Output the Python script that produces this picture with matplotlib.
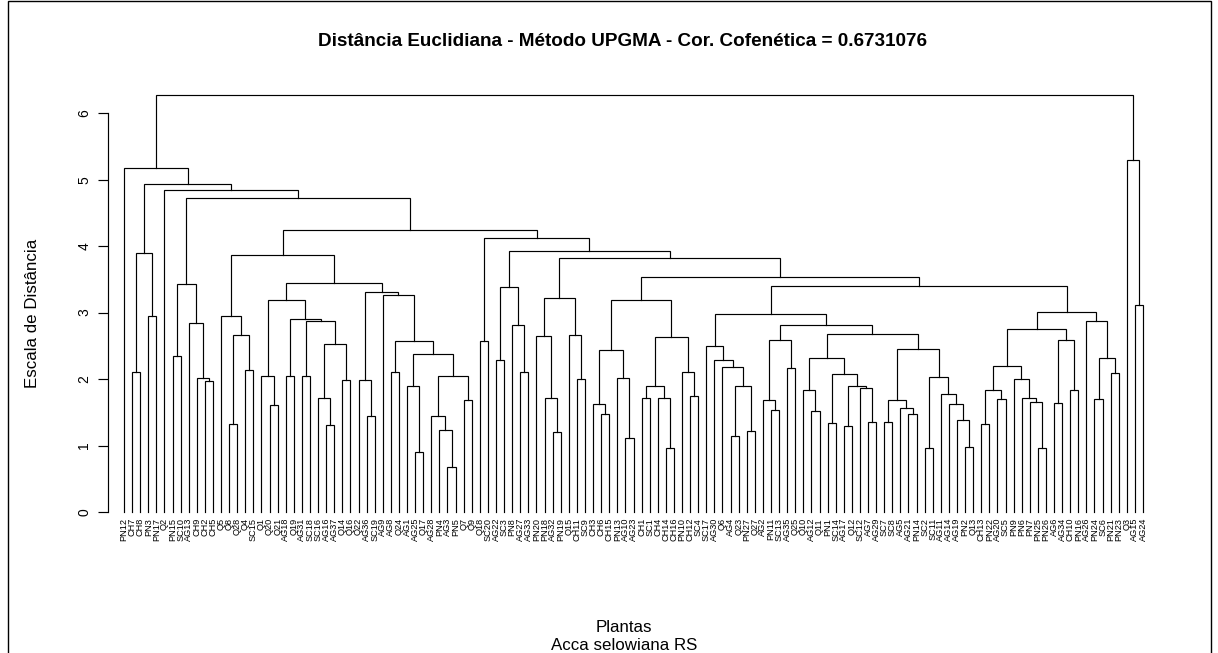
import matplotlib
matplotlib.use("Agg")
import matplotlib.pyplot as plt
from matplotlib.patches import Rectangle

plt.rcParams["font.family"] = ["Liberation Sans", "DejaVu Sans"]

# UPGMA tree: internal nodes are (height, left, right), leaves are plant codes
arvore = (6.27,
    (5.18, "PN12",
        (4.94,
            (3.90, (2.11, "CH7", "CH8"), (2.95, "PN3", "PN17")),
            (4.84, "Q2",
                (4.73,
                    (3.43, (2.35, "PN15", "SC10"),
                           (2.85, "AG13", (2.01, "CH9", (1.97, "CH2", "CH5")))),
                    (4.24,
                        (3.87,
                            (2.95, "Q5", (2.67, (1.32, "Q8", "Q28"), (2.13, "Q4", "SC15"))),
                            (3.44,
                                (3.19, (2.04, "Q1", (1.61, "Q20", "Q21")),
                                       (2.91, (2.04, "AG18", "Q19"),
                                              (2.87, (2.05, "AG31", "SC18"),
                                                     (2.53, (1.71, "SC16", (1.31, "AG16", "AG37")),
                                                            (1.98, "Q14", "Q16"))))),
                                (3.31, (1.98, "Q22", (1.45, "AG36", "SC19")),
                                       (3.27, "AG9",
                                              (2.58, (2.11, "AG8", "Q24"),
                                                     (2.37, (1.90, "AG1", (0.91, "AG25", "Q17")),
                                                            (2.04, (1.45, "AG28", (1.24, "PN4", (0.67, "AG3", "PN5"))),
                                                                   (1.68, "Q7", "Q9")))))))),
                        (4.12, (2.58, "Q18", "SC20"),
                            (3.92,
                                (3.38, (2.28, "AG22", "SC3"), (2.81, "PN8", (2.11, "AG27", "AG33"))),
                                (3.82,
                                    (3.22, (2.65, "PN20", (1.71, "PN18", (1.21, "AG32", "PN19"))),
                                           (2.66, "Q15", (2.00, "CH11", "SC9"))),
                                    (3.54,
                                        (3.19, (2.43, (1.62, "CH3", (1.48, "CH6", "CH15")),
                                                      (2.01, "PN13", (1.12, "AG10", "AG23"))),
                                               (2.64, (1.90, (1.71, "CH1", "SC1"),
                                                             (1.72, "CH4", (0.97, "CH14", "CH16"))),
                                                      (2.11, "PN10", (1.75, "CH12", "SC4")))),
                                        (3.40,
                                            (2.98, (2.50, "SC17", (2.28, "AG30", (2.18, "Q6",
                                                        (1.90, (1.15, "AG4", "Q23"), (1.22, "PN27", "Q27"))))),
                                                   (2.82, (2.59, (1.68, "AG2", (1.54, "PN11", "SC13")),
                                                                 (2.16, "AG35", "Q25")),
                                                          (2.68, (2.31, (1.84, "Q10", (1.52, "AG12", "Q11")),
                                                                        (2.07, (1.34, "PN1", "SC14"),
                                                                               (1.90, (1.30, "AG17", "Q12"),
                                                                                      (1.87, "SC12", (1.36, "AG7", "AG29"))))),
                                                                 (2.45, (1.69, (1.36, "SC7", "SC8"),
                                                                               (1.57, "AG5", (1.47, "AG21", "PN14"))),
                                                                        (2.03, (0.96, "SC2", "SC11"),
                                                                               (1.78, "AG11", (1.63, "AG14",
                                                                                   (1.38, "AG19", (0.98, "PN2", "Q13"))))))))),
                                            (3.01, (2.75, (2.20, (1.84, (1.32, "CH13", "PN22"), (1.70, "AG20", "SC5")),
                                                                 (2.00, "PN9", (1.72, "PN6", (1.65, "PN7", (0.96, "PN25", "PN26"))))),
                                                          (2.59, (1.64, "AG6", "AG34"), (1.84, "CH10", "PN16"))),
                                                   (2.87, "AG26", (2.31, (1.70, "PN24", "SC6"), (2.09, "PN21", "PN23")))))))))))))),
    (5.30, "Q3", (3.11, "AG15", "AG24")))

titulo = "Distância Euclidiana - Método UPGMA - Cor. Cofenética = 0.6731076"
yticks = [0, 1, 2, 3, 4, 5, 6]

fig = plt.figure(figsize=(12.18, 6.53), dpi=100)
ax = fig.add_axes([108 / 1218, 0.1905, 1051 / 1218, 0.689])

folhas = []


def desenha(no):
    # returns (x, height) of the node, drawing the bracket below it
    if isinstance(no, str):
        folhas.append(no)
        return len(folhas), 0.0
    h, esq, dir_ = no
    xe, he = desenha(esq)
    xd, hd = desenha(dir_)
    ax.plot([xe, xe, xd, xd], [he, h, h, hd], color="black", lw=0.85,
            solid_joinstyle="miter")
    return (xe + xd) / 2, h


desenha(arvore)

for i, nome in enumerate(folhas, start=1):
    ax.text(i, -0.09, nome, rotation=90, ha="center", va="top", fontsize=6.6)

n = len(folhas)
ax.set_xlim(1 - 1.98, n + 1.98)
ax.set_ylim(-0.25, 6.52)
ax.set_xticks([])
ax.set_yticks(yticks)
ax.set_yticklabels([str(t) for t in yticks], rotation=90, va="center", fontsize=10)
ax.tick_params(axis="y", length=7, width=0.85, pad=5)
for lado in ["top", "right", "bottom"]:
    ax.spines[lado].set_visible(False)
ax.spines["left"].set_bounds(0, 6)
ax.spines["left"].set_linewidth(0.85)
ax.patch.set_visible(False)

fig.text(623 / 1218, 1 - 42 / 653, titulo, ha="center", va="center",
         fontsize=13.6, fontweight="bold")
fig.text(33 / 1218, 1 - 313 / 653, "Escala de Distância", rotation=90,
         ha="center", va="center", fontsize=12.2)
fig.text(624 / 1218, 1 - 627 / 653, "Plantas", ha="center", va="center", fontsize=12.2)
fig.text(624 / 1218, 1 - 645 / 653, "Acca selowiana RS", ha="center", va="center", fontsize=12.2)

# outer frame
fig.patches.append(Rectangle((8 / 1218, -0.01), 1203 / 1218, 1.01 - 1 / 653,
                             transform=fig.transFigure,
                             fill=False, edgecolor="black", lw=1))

fig.savefig("out.png", dpi=100)
